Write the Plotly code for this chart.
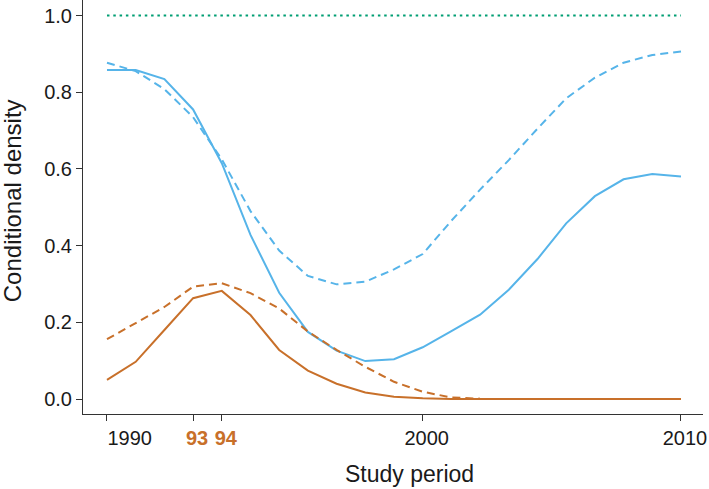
import plotly.graph_objects as go

# Study periods (equally spaced, 21 periods)
periods = list(range(21))

# Tick positions / labels on the study-period axis
tick_periods = [0, 3, 4, 11, 20]
ORANGE = "#C8702A"
BLUE = "#56B4E9"
GREEN = "#009E73"
tick_labels = [
    "\u2007\u2007\u2007\u20091990",
    "<b><span style=\"font-family:'Liberation Sans Narrow','Liberation Sans';color:%s\">93</span></b>" % ORANGE,
    "<b><span style=\"font-family:'Liberation Sans Narrow','Liberation Sans';color:%s\">94</span></b>" % ORANGE,
    "2000",
    "2010",
]

blue_solid = [0.858, 0.858, 0.834, 0.755, 0.615, 0.428, 0.277, 0.175, 0.126, 0.099,
              0.104, 0.135, 0.177, 0.220, 0.285, 0.365, 0.458, 0.529, 0.573, 0.587, 0.580]
blue_dashed = [0.877, 0.855, 0.808, 0.735, 0.625, 0.490, 0.387, 0.321, 0.299, 0.306,
               0.338, 0.378, 0.465, 0.546, 0.623, 0.705, 0.784, 0.838, 0.877, 0.897, 0.906]
orange_solid = [0.050, 0.097, 0.180, 0.263, 0.282, 0.219, 0.128, 0.074, 0.040, 0.017,
                0.006, 0.002, 0.0, 0.0, 0.0, 0.0, 0.0, 0.0, 0.0, 0.0, 0.0]
orange_dashed = [0.156, 0.199, 0.240, 0.293, 0.302, 0.276, 0.236, 0.176, 0.128, 0.084,
                 0.045, 0.019, 0.004, 0.001]
green_dotted = [1.0] * 21

y_ticks = [0.0, 0.2, 0.4, 0.6, 0.8, 1.0]

fig = go.Figure()
fig.add_trace(go.Scatter(x=periods, y=green_dotted, mode="lines",
                         line=dict(color=GREEN, width=2, dash="2.5px,3.8px")))
fig.add_trace(go.Scatter(x=periods, y=blue_dashed, mode="lines",
                         line=dict(color=BLUE, width=2, dash="8px,5px")))
fig.add_trace(go.Scatter(x=periods, y=blue_solid, mode="lines",
                         line=dict(color=BLUE, width=2)))
fig.add_trace(go.Scatter(x=periods[:len(orange_dashed)], y=orange_dashed, mode="lines",
                         line=dict(color=ORANGE, width=2, dash="8px,5px")))
fig.add_trace(go.Scatter(x=periods, y=orange_solid, mode="lines",
                         line=dict(color=ORANGE, width=2)))

axis_common = dict(showline=True, linecolor="#333333", linewidth=1,
                   ticks="outside", ticklen=6, tickcolor="#333333", tickwidth=1,
                   showgrid=False, zeroline=False,
                   tickfont=dict(family="Liberation Sans, Arial, sans-serif", size=20, color="#1a1a1a"))

fig.update_layout(
    width=709, height=489,
    margin=dict(l=83, r=6, t=0, b=75),
    paper_bgcolor="white", plot_bgcolor="white",
    showlegend=False,
    font=dict(family="Liberation Sans, Arial, sans-serif", color="#1a1a1a"),
    xaxis=dict(range=[-0.836, 20.767], tickmode="array", tickvals=tick_periods,
               ticktext=tick_labels, ticklabelshift=4, **axis_common),
    yaxis=dict(range=[-0.039, 1.0404], tickmode="array", tickvals=y_ticks,
               ticktext=["%.1f" % v for v in y_ticks], **axis_common),
    annotations=[
        dict(text="Study period", xref="paper", yref="paper", x=0.527, y=-0.145,
             xanchor="center", yanchor="middle", showarrow=False,
             font=dict(size=23, color="#1a1a1a")),
        dict(text="Conditional density", xref="paper", yref="paper", x=-0.1145, y=0.514,
             xanchor="center", yanchor="middle", textangle=-90, showarrow=False,
             font=dict(size=24, color="#1a1a1a")),
    ],
)

fig.write_html("out.html", config={"displayModeBar": False},
               post_script="document.body.style.margin='0';document.body.style.overflow='hidden';")
